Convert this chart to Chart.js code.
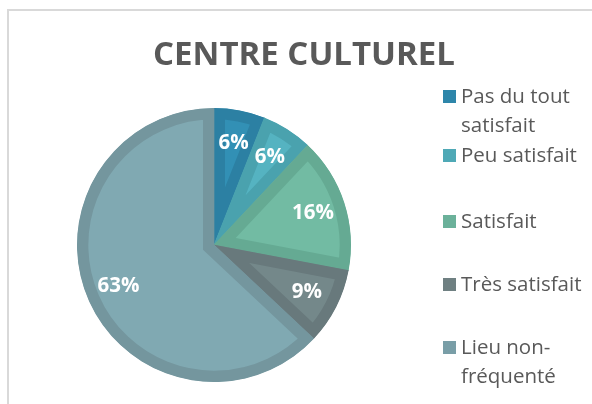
<!DOCTYPE html>
<html>
<head>
<meta charset="utf-8">
<script src="https://cdn.jsdelivr.net/npm/chart.js@4/dist/chart.umd.min.js"></script>
<style>
  html, body { margin: 0; padding: 0; background: #fff; }
  #wrap { position: relative; width: 592px; height: 404px; overflow: hidden; }
  #frame { position: absolute; left: 7px; top: 9px; width: 640px; height: 440px;
           border: 2px solid #d9d9d9; box-sizing: border-box; }
  #chart { position: absolute; left: 0; top: 0; }
</style>
</head>
<body>
<div id="wrap">
  <div id="frame"></div>
  <canvas id="chart" width="592" height="404"></canvas>
</div>
<script>
const chartTitle = 'CENTRE CULTUREL';
const categories = ['Pas du tout satisfait', 'Peu satisfait', 'Satisfait', 'Très satisfait', 'Lieu non-fréquenté'];
// legend text as it wraps in the side column
const legendLines = [['Pas du tout', 'satisfait'], ['Peu satisfait'], ['Satisfait'], ['Très satisfait'], ['Lieu non-', 'fréquenté']];
const shares = [6, 6, 16, 9, 63];
const fills = ['#3290b5', '#55b3c1', '#72bba3', '#74888a', '#80a9b2'];
const edges = ['#2c80a3', '#4aa2ae', '#65aa93', '#68797c', '#74969e'];
const swatches = ['#2e86aa', '#4fa9b6', '#6bb19a', '#6f8082', '#799ea7'];

const FONT = '"Open Sans", "Liberation Sans", sans-serif';

// percentage labels inside each slice
const sliceLabels = {
  id: 'sliceLabels',
  afterDatasetsDraw(chart) {
    const ctx = chart.ctx;
    const meta = chart.getDatasetMeta(0);
    ctx.save();
    ctx.font = 'bold 20.5px ' + FONT;
    ctx.fillStyle = '#ffffff';
    ctx.textAlign = 'center';
    ctx.textBaseline = 'middle';
    meta.data.forEach((arc, i) => {
      const p = arc.getProps(['x', 'y', 'startAngle', 'endAngle', 'outerRadius'], true);
      const mid = (p.startAngle + p.endAngle) / 2;
      const r = p.outerRadius * 0.76;
      ctx.fillText(shares[i] + '%', p.x + Math.cos(mid) * r, p.y + Math.sin(mid) * r);
    });
    ctx.restore();
  }
};

// title and a legend column on the right, Excel style
const sideBits = {
  id: 'sideBits',
  afterDraw(chart) {
    const ctx = chart.ctx;
    ctx.save();
    ctx.fillStyle = '#595959';
    ctx.font = 'bold 33px ' + FONT;
    ctx.textAlign = 'center';
    ctx.textBaseline = 'alphabetic';
    ctx.fillText(chartTitle, 304, 65);

    const firstBaselines = [103, 162, 228, 291, 354];
    const lineStep = 29;
    ctx.font = '20.5px ' + FONT;
    ctx.textAlign = 'left';
    legendLines.forEach((lines, i) => {
      const b = firstBaselines[i];
      ctx.fillStyle = swatches[i];
      ctx.fillRect(443, b - 13, 13, 13);
      ctx.fillStyle = '#595959';
      lines.forEach((t, j) => ctx.fillText(t, 461, b + j * lineStep));
    });
    ctx.restore();
  }
};

new Chart(document.getElementById('chart'), {
  type: 'pie',
  data: {
    labels: categories,
    datasets: [{
      data: shares,
      backgroundColor: fills,
      borderColor: edges,
      borderWidth: 11,
      borderAlign: 'inner',
      borderJoinStyle: 'miter',
      hoverOffset: 0
    }]
  },
  options: {
    responsive: false,
    animation: false,
    layout: { padding: { left: 77, right: 241, top: 108, bottom: 22 } },
    plugins: {
      legend: { display: false },
      title: { display: false },
      tooltip: { enabled: false }
    }
  },
  plugins: [sliceLabels, sideBits]
});
</script>
</body>
</html>
